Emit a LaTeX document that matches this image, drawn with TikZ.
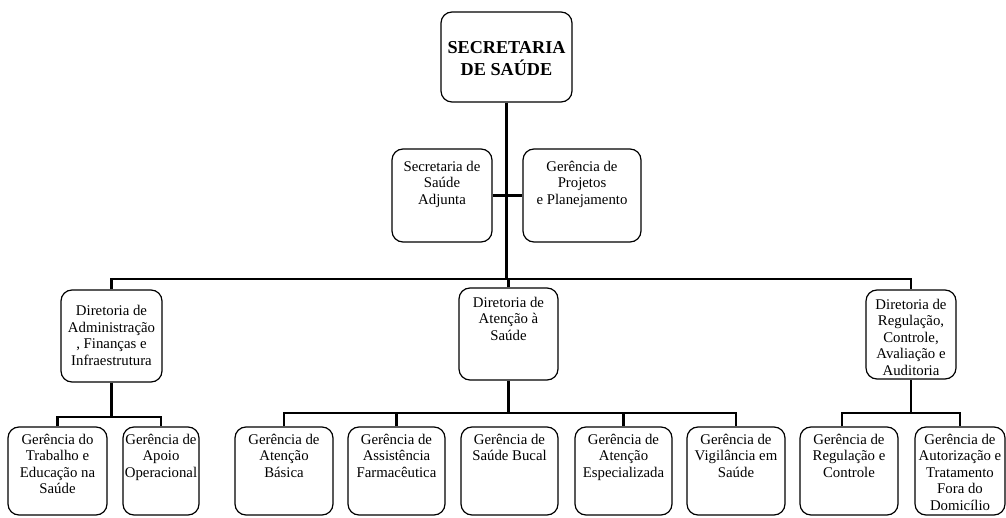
\documentclass[tikz,border=0pt]{standalone}
\usepackage{fontspec}
\setmainfont{Liberation Serif}
\tikzset{
  box/.style={draw, line width=1.2pt, rounded corners=11pt, inner sep=0pt},
  lbl/.style={align=center, inner sep=0pt, anchor=north, font=\fontsize{14.8}{16.5}\selectfont},
  conn/.style={line width=2.8pt},
}
\newcommand\bx[7]{%
  \node[box, minimum width={#4-#2}, minimum height={#5-#3}] (#1) at ({(#2+#4)/2},{(#3+#5)/2}) {};
  \node[lbl] (#1t) at ([yshift=-#6pt]#1.north) {#7};
}
\begin{document}
\begin{tikzpicture}[x=1pt,y=-1pt]
\useasboundingbox (0,0) rectangle (1006,518);
% top
\node[box, minimum width=131, minimum height=90] (top) at (506.5,57) {};
\node[align=center, inner sep=0pt, font=\bfseries\fontsize{18.2}{22}\selectfont] (topt) at ([yshift=-2pt]top.center) {SECRETARIA\\DE SAÚDE};
% second level
\bx{adj}{392}{149}{492}{242}{12.5}{Secretaria de\\Saúde\\Adjunta}
\bx{proj}{523}{149}{641}{242}{12.5}{Gerência de\\Projetos\\e Planejamento}
% directorates
\bx{dirA}{61}{290}{162}{382}{16}{Diretoria de\\Administração\\, Finanças e\\Infraestrutura}
\bx{dirB}{459}{288}{558}{380}{9.5}{Diretoria de\\Atenção à\\Saúde}
\bx{dirC}{866}{290}{956}{379}{9.5}{Diretoria de\\Regulação,\\Controle,\\Avaliação e\\Auditoria}
% bottom
\bx{g1}{8}{427}{107}{515}{7.5}{Gerência do\\Trabalho e\\Educação na\\Saúde}
\bx{g2}{123}{427}{199}{515}{7.5}{Gerência de\\Apoio\\Operacional}
\bx{b1}{235}{427}{333}{515}{7.5}{Gerência de\\Atenção\\Básica}
\bx{b2}{348}{427}{445}{515}{7.5}{Gerência de\\Assistência\\Farmacêutica}
\bx{b3}{461}{427}{558}{515}{7.5}{Gerência de\\Saúde Bucal}
\bx{b4}{575}{427}{672}{515}{7.5}{Gerência de\\Atenção\\Especializada}
\bx{b5}{687}{427}{785}{515}{7.5}{Gerência de\\Vigilância em\\Saúde}
\bx{r1}{800}{427}{898}{515}{7.5}{Gerência de\\Regulação e\\Controle}
\bx{r2}{915}{427}{1005}{515}{7.5}{Gerência de\\Autorização e\\Tratamento\\Fora do\\Domicílio}
% connectors
\coordinate (y1) at (0,279);
\coordinate (y2) at (0,417);
\coordinate (y3) at (0,413);
\draw[conn] (top.south) -- (top.south |- y1);
\draw[conn] (adj.east) -- (proj.west);
\draw[conn] (dirA.north) -- (dirA.north |- y1) -- (dirC.north |- y1) -- (dirC.north);
\draw[conn] (dirB.north) -- (dirB.north |- y1);
\draw[conn] (dirA.south) -- (dirA.south |- y2);
\draw[conn] (g1.north) -- (g1.north |- y2) -- (g2.north |- y2) -- (g2.north);
\draw[conn] (dirB.south) -- (dirB.south |- y3);
\draw[conn] (b1.north) -- (b1.north |- y3) -- (b5.north |- y3) -- (b5.north);
\draw[conn] (b2.north) -- (b2.north |- y3);
\draw[conn] (b4.north) -- (b4.north |- y3);
\coordinate (r1top) at ([xshift=-7pt]r1.north);
\draw[conn] (dirC.south) -- (dirC.south |- y3);
\draw[conn] (r1top) -- (r1top |- y3) -- (r2.north |- y3) -- (r2.north);
\end{tikzpicture}
\end{document}
